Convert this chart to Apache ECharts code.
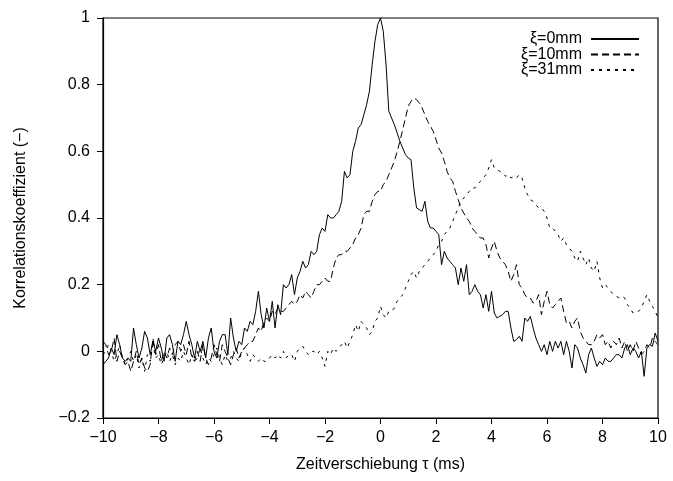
<!DOCTYPE html>
<html>
<head>
<meta charset="utf-8">
<script src="https://cdn.jsdelivr.net/npm/echarts@6/dist/echarts.min.js"></script>
<style>html,body{margin:0;padding:0;background:#fff}#c{width:673px;height:481px}</style>
</head>
<body>
<div id="c"></div>
<script>
// sampling grid of the correlation curves (ms)
const tauStart = -10, tauStep = 0.1;
const legendNames = ['ξ=0mm', 'ξ=10mm', 'ξ=31mm'];
const xTicks = [-10, 10, 2];
const yTicks = [-0.2, 1, 0.2];

// ξ = 0 mm
const xi0 = [
  -0.04,-0.03,-0.02,0.01,-0.01,0.05,0.02,-0.02,-0.03,-0.02,
  -0.03,0.07,0.02,-0.02,0.01,0.06,0.04,-0.01,0.03,0.0,
  0.04,0.01,-0.03,0.04,0.05,0.02,-0.03,0.03,0.02,0.05,
  0.09,0.05,0.02,-0.02,0.03,0.0,0.03,-0.02,0.04,0.07,
  0.0,-0.02,0.03,0.05,0.05,-0.01,0.1,0.04,0.0,0.03,
  0.02,0.07,0.06,0.09,0.08,0.12,0.18,0.11,0.07,0.13,
  0.09,0.15,0.07,0.14,0.11,0.2,0.19,0.2,0.23,0.17,
  0.22,0.24,0.27,0.25,0.26,0.3,0.29,0.3,0.35,0.37,
  0.36,0.41,0.4,0.4,0.41,0.42,0.45,0.54,0.52,0.53,
  0.6,0.63,0.67,0.68,0.71,0.74,0.78,0.86,0.93,0.98,
  1.0,0.96,0.86,0.72,0.7,0.68,0.655,0.63,0.61,0.59,
  0.58,0.575,0.49,0.43,0.425,0.42,0.45,0.39,0.37,0.37,
  0.36,0.35,0.26,0.3,0.28,0.27,0.26,0.25,0.2,0.25,
  0.21,0.26,0.17,0.18,0.2,0.18,0.17,0.13,0.17,0.12,
  0.18,0.115,0.1,0.105,0.11,0.12,0.12,0.07,0.03,0.035,
  0.045,0.03,0.1,0.09,0.105,0.07,0.04,0.02,0.0,0.02,
  -0.01,0.03,0.0,0.03,0.01,0.03,-0.01,0.03,0.0,-0.05,
  0.02,0.01,-0.02,-0.04,-0.065,-0.01,0.01,-0.02,-0.045,-0.03,
  -0.04,-0.02,-0.03,-0.03,-0.02,-0.01,-0.01,-0.02,0.01,0.02,
  -0.01,0.01,0.0,-0.02,0.0,-0.075,0.01,0.02,0.015,0.055,
  0.03
];

// ξ = 10 mm
const xi10 = [
  0.03,0.02,-0.01,0.0,0.04,-0.03,0.0,-0.02,-0.04,-0.03,
  -0.06,-0.03,0.0,-0.04,-0.02,-0.05,-0.06,-0.04,0.04,-0.01,
  0.02,-0.03,0.0,-0.02,0.01,-0.01,0.02,0.03,0.0,0.02,
  -0.01,0.03,-0.02,-0.03,0.0,-0.03,0.02,-0.02,-0.04,-0.02,
  0.02,-0.01,-0.03,0.02,0.0,-0.02,-0.04,-0.01,0.01,-0.02,
  0.0,0.01,0.02,0.03,0.03,0.05,0.07,0.06,0.09,0.1,
  0.09,0.12,0.11,0.13,0.12,0.12,0.13,0.14,0.15,0.14,
  0.15,0.17,0.16,0.18,0.17,0.16,0.18,0.2,0.2,0.21,
  0.22,0.21,0.21,0.25,0.28,0.29,0.29,0.3,0.3,0.31,
  0.32,0.34,0.35,0.37,0.41,0.42,0.42,0.45,0.47,0.48,
  0.48,0.5,0.51,0.53,0.55,0.57,0.6,0.63,0.665,0.7,
  0.735,0.75,0.76,0.755,0.745,0.73,0.71,0.69,0.675,0.66,
  0.635,0.61,0.595,0.57,0.54,0.52,0.51,0.48,0.455,0.43,
  0.415,0.4,0.39,0.37,0.36,0.35,0.34,0.34,0.32,0.28,
  0.31,0.33,0.3,0.28,0.27,0.26,0.24,0.21,0.23,0.26,
  0.2,0.19,0.17,0.16,0.16,0.145,0.15,0.17,0.11,0.15,
  0.18,0.14,0.13,0.14,0.15,0.16,0.12,0.085,0.09,0.07,
  0.09,0.1,0.06,0.04,0.03,0.02,0.02,0.03,0.05,0.04,
  0.05,0.02,0.03,0.01,0.03,0.02,0.04,0.01,0.03,0.0,
  0.02,0.0,0.03,0.01,-0.01,0.0,0.02,0.01,0.04,0.03,
  0.02
];

// ξ = 31 mm
const xi31 = [
  -0.01,0.0,0.02,0.0,-0.03,-0.01,0.02,-0.02,-0.04,-0.02,
  0.0,-0.03,-0.01,-0.05,-0.02,-0.06,-0.01,-0.03,0.02,-0.02,
  -0.01,-0.04,-0.02,0.0,-0.03,-0.01,-0.04,-0.02,-0.03,0.0,
  -0.02,-0.04,-0.01,-0.03,-0.02,0.01,-0.02,-0.04,-0.02,-0.03,
  -0.01,0.01,-0.02,-0.04,-0.01,-0.03,-0.02,0.0,-0.02,-0.03,
  0.0,0.01,-0.01,-0.03,-0.01,-0.02,-0.03,-0.02,-0.03,-0.03,
  -0.02,-0.01,-0.02,-0.01,-0.02,0.0,-0.02,-0.01,-0.01,-0.03,
  0.0,0.01,0.015,0.0,-0.01,0.0,0.0,-0.01,0.0,-0.02,
  -0.045,0.0,-0.01,0.01,0.0,0.01,0.02,0.03,0.01,0.03,
  0.05,0.08,0.06,0.09,0.08,0.07,0.05,0.06,0.09,0.1,
  0.135,0.11,0.1,0.12,0.12,0.13,0.15,0.16,0.17,0.19,
  0.21,0.23,0.24,0.22,0.24,0.25,0.26,0.27,0.28,0.29,
  0.3,0.32,0.33,0.35,0.36,0.37,0.39,0.41,0.43,0.45,
  0.46,0.47,0.48,0.49,0.49,0.5,0.51,0.52,0.53,0.55,
  0.575,0.55,0.545,0.54,0.535,0.525,0.53,0.52,0.525,0.52,
  0.53,0.52,0.49,0.47,0.455,0.45,0.44,0.43,0.43,0.42,
  0.4,0.37,0.37,0.36,0.35,0.33,0.34,0.32,0.31,0.3,
  0.28,0.27,0.3,0.28,0.26,0.28,0.25,0.24,0.27,0.22,
  0.19,0.2,0.19,0.18,0.17,0.165,0.16,0.165,0.16,0.14,
  0.13,0.115,0.12,0.12,0.13,0.15,0.17,0.15,0.135,0.12,
  0.1
];

function pairs(arr) {
  return arr.map((v, i) => [+(tauStart + i * tauStep).toFixed(2), v]);
}
const minus = v => String(v).replace('-', '\u2212');
const FONT = 'Liberation Sans, Arial, sans-serif';

const chart = echarts.init(document.getElementById('c'), null, {renderer: 'canvas'});
const mkSeries = (name, arr, type) => ({
  name, type: 'line', data: pairs(arr), symbol: 'none', showSymbol: false,
  lineStyle: {color: '#000', width: 1, type},
  itemStyle: {color: '#000'},
  animation: false, z: 3
});

chart.setOption({
  animation: false,
  backgroundColor: '#fff',
  grid: {left: 103, right: 15, top: 18, bottom: 63, show: true, borderColor: '#000', borderWidth: 1.2, containLabel: false},
  legend: {
    orient: 'vertical', right: 28, top: 26, align: 'right',
    itemWidth: 48, itemHeight: 12, itemGap: -0.5,
    itemStyle: {color: 'rgba(0,0,0,0)', borderWidth: 0, opacity: 0},
    textStyle: {fontFamily: FONT, fontSize: 16, color: '#000', padding: [0, 4, 0, 0]},
    data: legendNames,
    selectedMode: false
  },
  xAxis: {
    type: 'value', min: xTicks[0], max: xTicks[1], interval: xTicks[2],
    name: 'Zeitverschiebung τ (ms)', nameLocation: 'middle', nameGap: 39,
    nameTextStyle: {fontFamily: FONT, fontSize: 16, color: '#000'},
    axisLine: {show: true, onZero: false, lineStyle: {color: '#000', width: 1.2}},
    axisTick: {show: true, inside: false, length: 6, lineStyle: {color: '#000'}},
    axisLabel: {fontFamily: FONT, fontSize: 16, color: '#000', margin: 12, formatter: minus},
    splitLine: {show: false}
  },
  yAxis: {
    type: 'value', min: yTicks[0], max: yTicks[1], interval: yTicks[2],
    name: 'Korrelationskoeffizient (−)', nameLocation: 'middle', nameGap: 74,
    nameTextStyle: {fontFamily: FONT, fontSize: 16, color: '#000'},
    axisLine: {show: true, onZero: false, lineStyle: {color: '#000', width: 1.2}},
    axisTick: {show: true, inside: false, length: 6, lineStyle: {color: '#000'}},
    axisLabel: {fontFamily: FONT, fontSize: 16, color: '#000', margin: 13,
      formatter: v => minus(Math.round(v * 10) / 10)},
    splitLine: {show: false}
  },
  series: [
    mkSeries(legendNames[0], xi0, 'solid'),
    mkSeries(legendNames[1], xi10, [7, 4]),
    mkSeries(legendNames[2], xi31, [3, 5])
  ]
});
</script>
</body>
</html>
